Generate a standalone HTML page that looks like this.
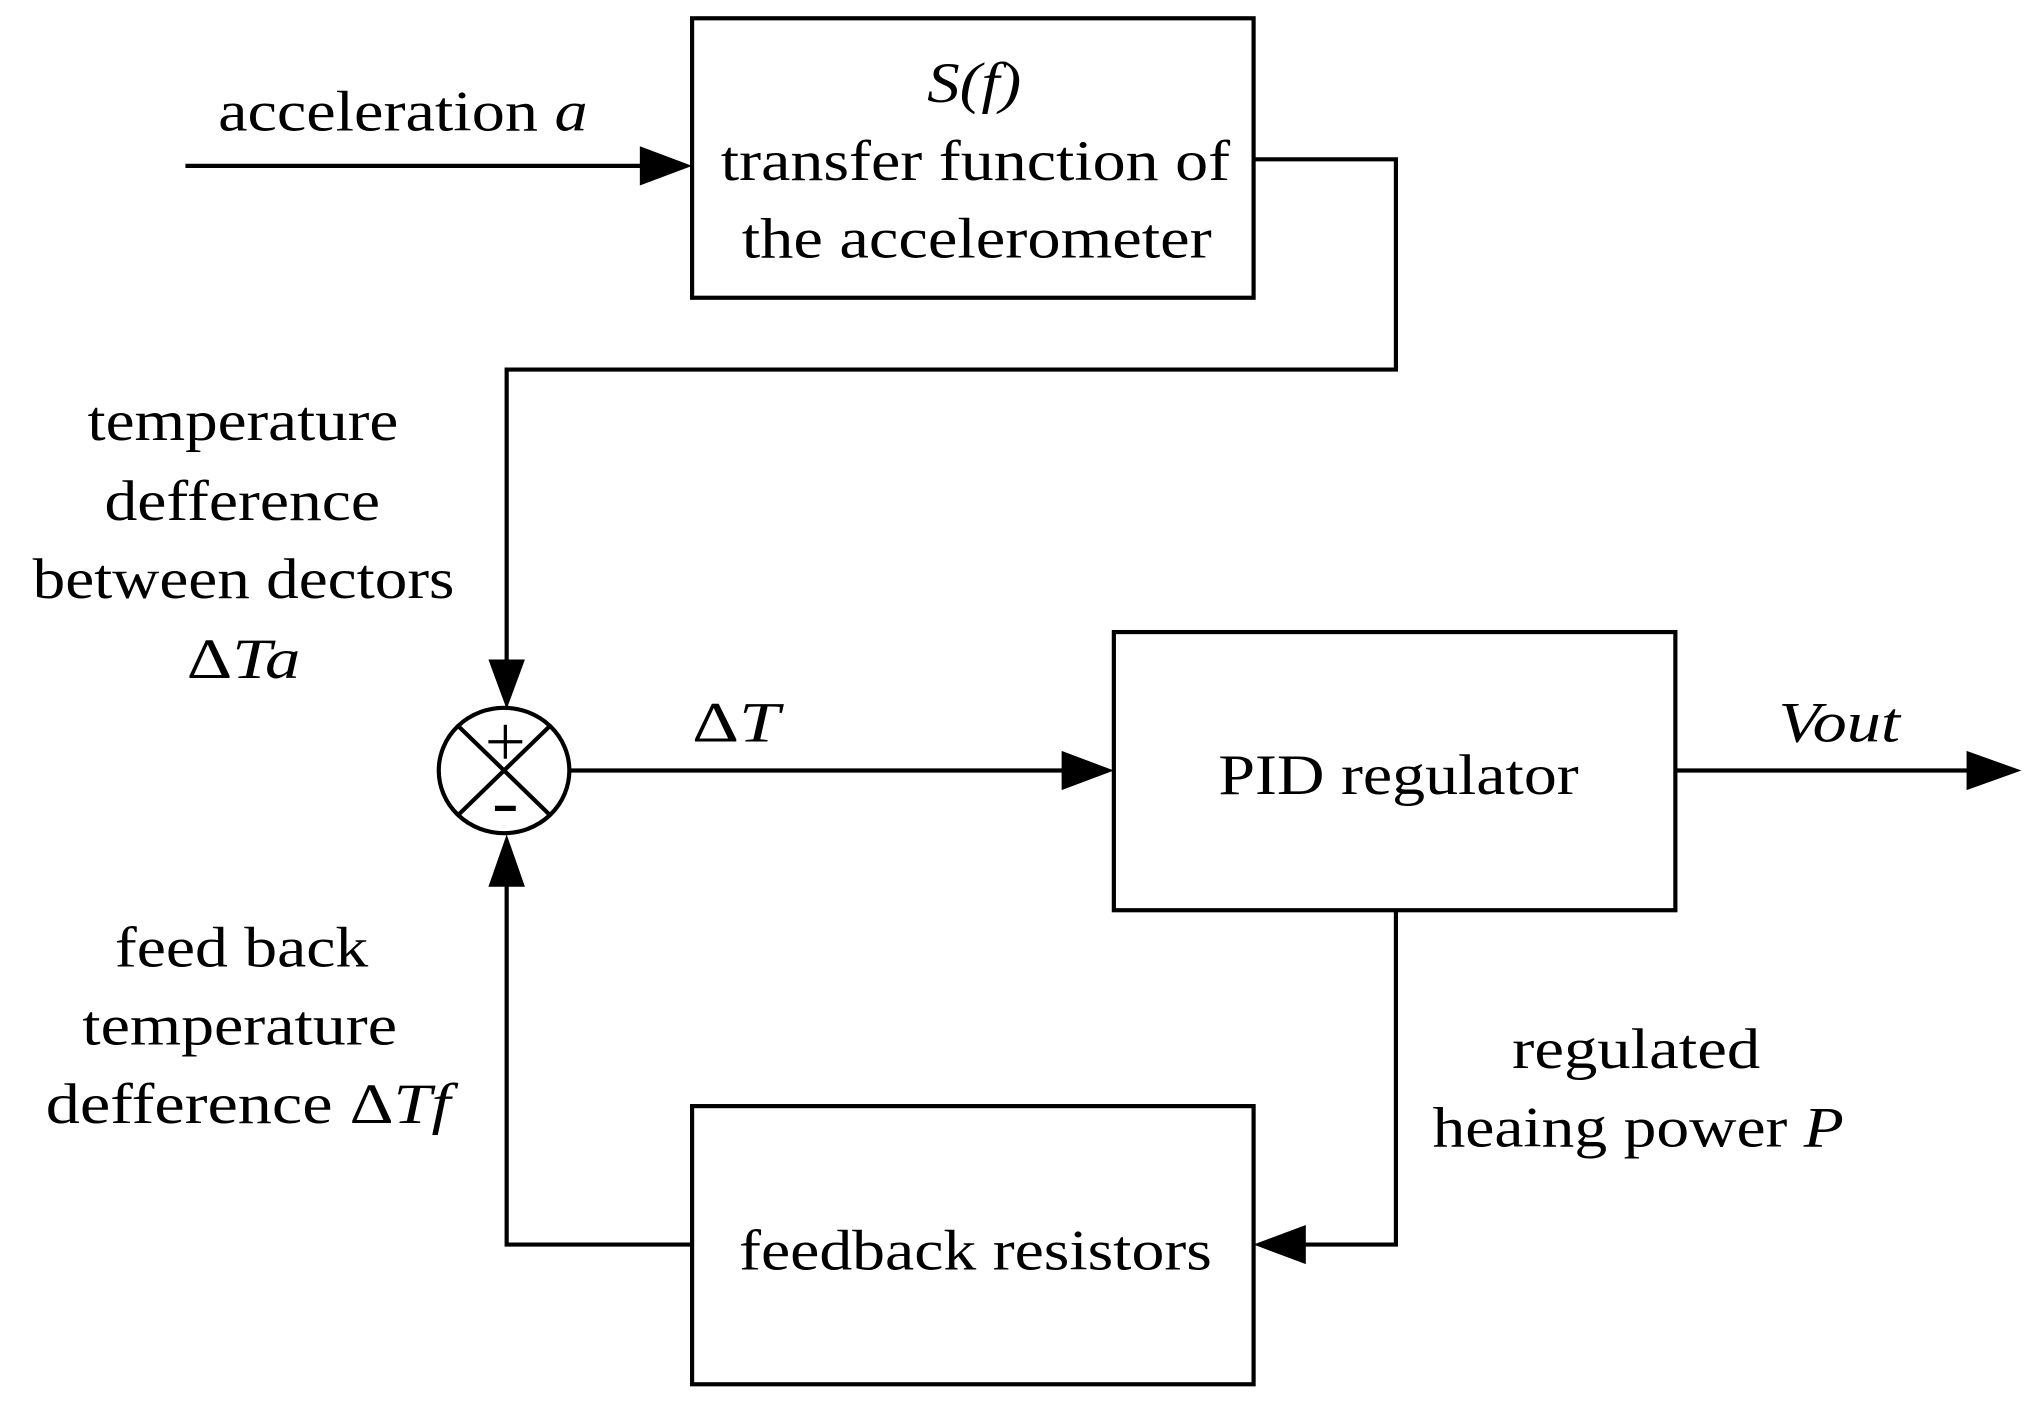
<!DOCTYPE html>
<html><head><style>html,body{margin:0;padding:0;background:#fff}svg{display:block}</style></head><body>
<svg width="2041" height="1413" viewBox="0 0 1563 1082" preserveAspectRatio="none" xmlns="http://www.w3.org/2000/svg" font-family="Liberation Serif, serif" font-size="44" fill="#000">
<g fill="none" stroke="#000" stroke-width="3.2">
<rect x="530" y="14" width="430" height="214"/>
<rect x="853" y="484" width="430" height="213"/>
<rect x="530" y="847" width="430" height="213"/>
<line x1="142" y1="127" x2="495" y2="127"/>
<polyline points="960,122 1069,122 1069,283 388,283 388,510"/>
<ellipse cx="386" cy="590" rx="50" ry="48"/>
<line x1="351" y1="556" x2="421" y2="624"/>
<line x1="421" y1="556" x2="351" y2="624"/>
<line x1="436" y1="590" x2="815" y2="590"/>
<line x1="1283" y1="590" x2="1510" y2="590"/>
<polyline points="1069,697 1069,953 995,953"/>
<polyline points="530,953 388,953 388,675"/>
<line x1="374" y1="568" x2="400" y2="568" stroke-width="2.5"/>
<line x1="387" y1="555" x2="387" y2="581" stroke-width="2.5"/>
<line x1="379" y1="619" x2="395" y2="619" stroke-width="4"/>
</g>
<polygon points="530,127 490,112 490,142"/>
<polygon points="388,543 374,505 402,505"/>
<polygon points="853,590 813,575 813,605"/>
<polygon points="1548,590 1506,575 1506,605"/>
<polygon points="960,953 1000,938 1000,968"/>
<polygon points="388,639 374,679 402,679"/>
<g text-anchor="start">
<text x="167" y="100" textLength="283" lengthAdjust="spacingAndGlyphs">acceleration <tspan font-style="italic">a</tspan></text>
<text x="710" y="78" font-style="italic" textLength="72" lengthAdjust="spacingAndGlyphs">S(f)</text>
<text x="552" y="138" textLength="390" lengthAdjust="spacingAndGlyphs">transfer function of</text>
<text x="568" y="197" textLength="360" lengthAdjust="spacingAndGlyphs">the accelerometer</text>
<text x="67" y="337" textLength="238" lengthAdjust="spacingAndGlyphs">temperature</text>
<text x="80" y="398" textLength="211" lengthAdjust="spacingAndGlyphs">defference</text>
<text x="25" y="458" textLength="323" lengthAdjust="spacingAndGlyphs">between dectors</text>
<text x="143" y="519" textLength="87" lengthAdjust="spacingAndGlyphs">Δ<tspan font-style="italic">Ta</tspan></text>
<text x="530" y="568" textLength="67" lengthAdjust="spacingAndGlyphs">Δ<tspan font-style="italic">T</tspan></text>
<text x="933" y="608" textLength="276" lengthAdjust="spacingAndGlyphs">PID regulator</text>
<text x="1362" y="568" font-style="italic" textLength="93" lengthAdjust="spacingAndGlyphs">Vout</text>
<text x="88" y="740" textLength="194" lengthAdjust="spacingAndGlyphs">feed back</text>
<text x="63" y="800" textLength="241" lengthAdjust="spacingAndGlyphs">temperature</text>
<text x="35" y="860" textLength="310" lengthAdjust="spacingAndGlyphs">defference Δ<tspan font-style="italic">Tf</tspan></text>
<text x="1158" y="818" textLength="190" lengthAdjust="spacingAndGlyphs">regulated</text>
<text x="1097" y="878" textLength="315" lengthAdjust="spacingAndGlyphs">heaing power <tspan font-style="italic">P</tspan></text>
<text x="566" y="972" textLength="362" lengthAdjust="spacingAndGlyphs">feedback resistors</text>
</g>
</svg>
</body></html>
